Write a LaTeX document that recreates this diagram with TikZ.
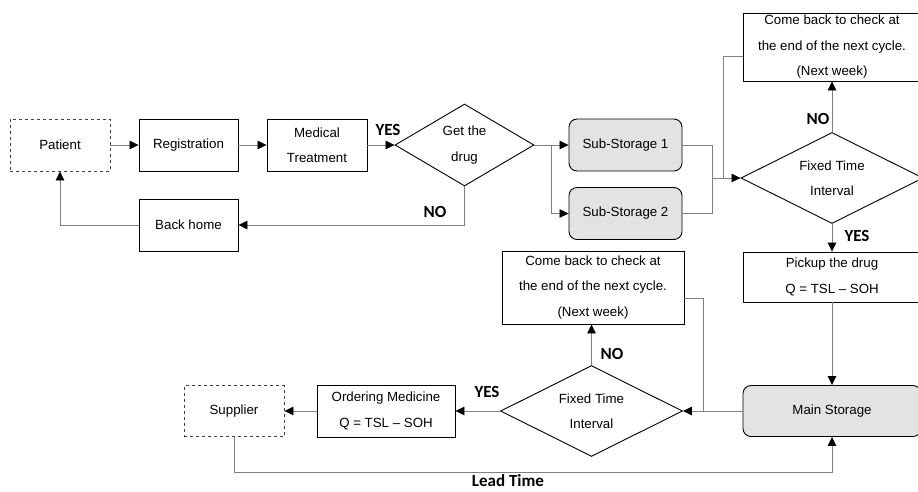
\documentclass[tikz,border=0pt]{standalone}
\usepackage{fontspec}
\setmainfont{Liberation Sans}
\newfontfamily\tagfont{Carlito}
\usetikzlibrary{shapes.geometric,arrows.meta}

\tikzset{
  box/.style={draw=black, line width=0.9pt, minimum width=99pt, minimum height=52pt,
    inner sep=0pt, align=center, font=\fontsize{13.3}{25.5}\selectfont},
  dashbox/.style={box, dashed, draw=black!75},
  store/.style={box, fill=black!11, rounded corners=8pt},
  decision/.style={diamond, draw=black, line width=0.9pt, aspect=2, inner sep=0pt,
    minimum width=182pt, minimum height=91pt, align=center,
    font=\fontsize{13.3}{25.5}\selectfont},
  tag/.style={font=\tagfont\bfseries\fontsize{17}{17}\selectfont, inner sep=0pt},
  line/.style={draw=black!50, line width=0.8pt},
  flow/.style={line, -{Triangle[length=9pt,width=8.5pt,color=black]}}
}

\begin{document}
\begin{tikzpicture}[x=1pt,y=-1pt]
\useasboundingbox (0,0) rectangle (918,491);

% upper row
\node[dashbox, minimum width=100pt] (patient) at (60,145) {Patient};
\node[box] (reg) at (188.5,145) {Registration};
\node[box, minimum width=100pt] (treat) at (317,145) {Medical\\Treatment};
\node[decision, minimum width=139pt, minimum height=82pt] (get) at (464.5,145) {Get the\\drug};
\node[box] (home) at (188.5,225) {Back home};
\node[store, minimum width=113pt] (sub1) at (625.5,145) {Sub-Storage 1};
\node[store, minimum width=113pt] (sub2) at (625.5,213.5) {Sub-Storage 2};
\node[decision] (fix1) at (832,178) {Fixed Time\\Interval};
\node[box, minimum width=178pt, minimum height=68pt] (back1) at (832,47)
  {Come back to check at\\the end of the next cycle.\\(Next week)};

% right column and lower row
\node[box, minimum width=178pt, minimum height=50pt] (pick) at (832,277) {Pickup the drug\\Q = TSL -- SOH};
\node[store, minimum width=178pt, minimum height=51pt] (main) at (832,411) {Main Storage};
\node[decision] (fix2) at (591.5,411) {Fixed Time\\Interval};
\node[box, minimum width=182pt, minimum height=73pt] (back2) at (593,287.5)
  {Come back to check at\\the end of the next cycle.\\(Next week)};
\node[box, minimum width=138pt] (order) at (386,411) {Ordering Medicine\\Q = TSL -- SOH};
\node[dashbox, minimum width=100pt, minimum height=51pt] (supplier) at (234,411) {Supplier};

% labels
\node[tag] (yes1) at (388,130) {YES};
\node[tag] (no1) at (435,212) {NO};
\node[tag] (no2) at (818,119) {NO};
\node[tag] (yes2) at (857,236) {YES};
\node[tag] (no3) at (612,354) {NO};
\node[tag] (yes3) at (487,392) {YES};
\node[tag, font=\tagfont\bfseries\fontsize{17}{17}\selectfont] (lead) at (508,481) {Lead Time};

\coordinate (split) at (551,145);
\coordinate (merge) at (712,178);
\coordinate (ret1) at (723,178);
\coordinate (ret2) at (703,411);

% connectors
\draw[flow] (patient) -- (reg);
\draw[flow] (reg) -- (treat);
\draw[flow] (treat) -- (get.west);
\draw[flow] (get.south) |- (home.east);
\draw[flow] (home.west) -| (patient.south);
\draw[flow] (get.east) -- (sub1.west);
\draw[flow] (split) |- (sub2.west);
\draw[line] (sub1.east) -| (merge);
\draw[line] (sub2.east) -| (merge);
\draw[flow] (merge) -- (fix1.west);
\draw[line] (ret1) |- ([yshift=-9pt]back1.west);
\draw[flow] (fix1.north) -- (back1.south);
\draw[flow] (fix1.south) -- (pick.north);
\draw[flow] (pick.south) -- (main.north);
\draw[flow] (main.west) -- (fix2.east);
\draw[line] ([yshift=-11pt]back2.east) -| (ret2);
\draw[flow] (fix2.north) -- (fix2.north |- back2.south);
\draw[flow] (fix2.west) -- (order.east);
\draw[flow] (order.west) -- (supplier.east);
\draw[flow] (supplier.south) -- ++(0,35) -| (main.south);
\end{tikzpicture}
\end{document}
